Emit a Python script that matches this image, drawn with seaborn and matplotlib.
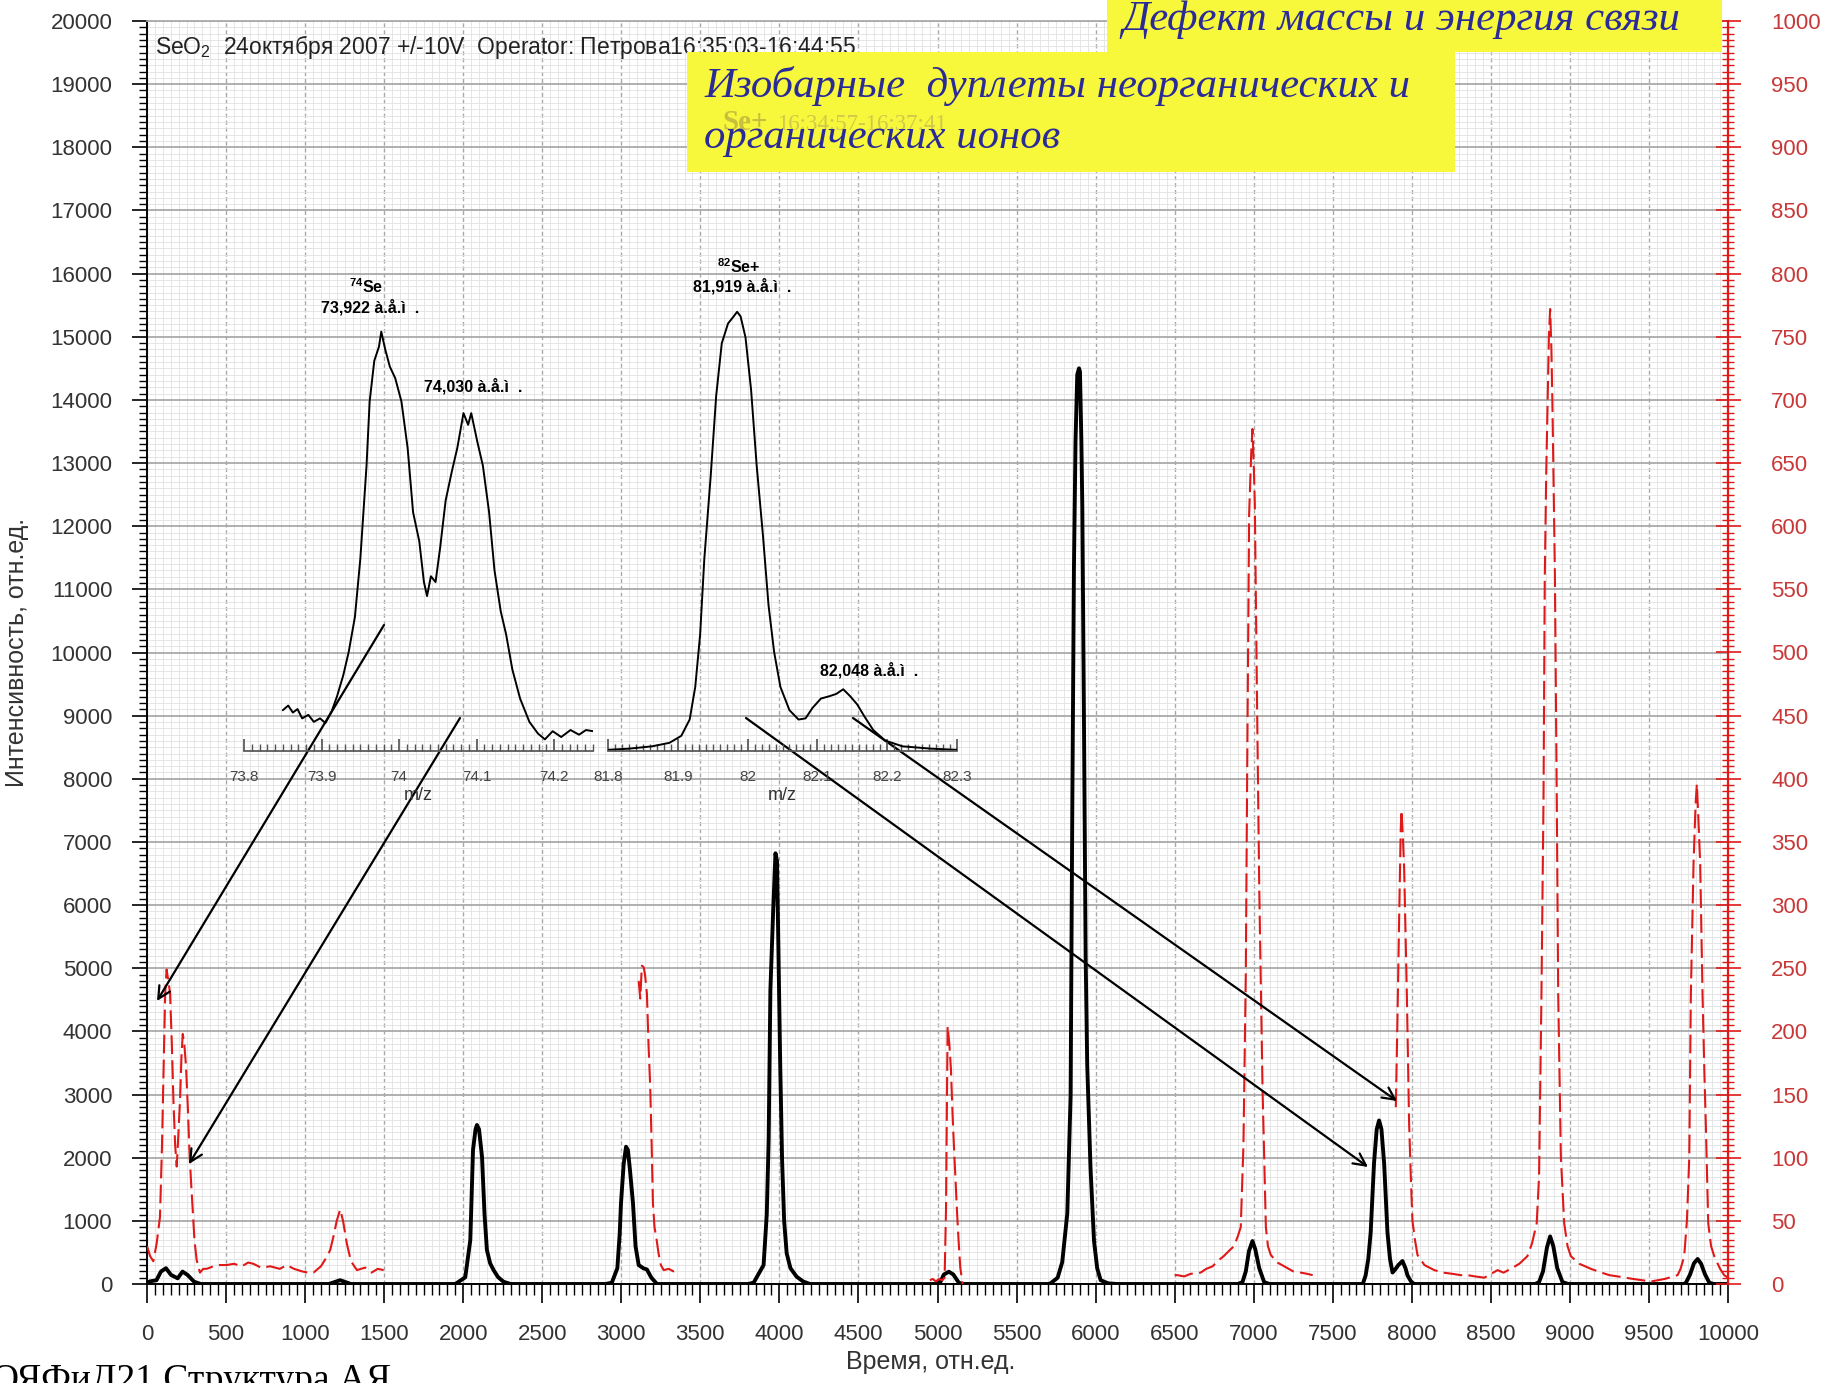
import pandas as pd
import seaborn as sns
import matplotlib.pyplot as plt
from matplotlib.ticker import MultipleLocator, FuncFormatter
from matplotlib.patches import Rectangle

# black trace, left axis (time, intensity)
black_t = [0, 16, 60, 88, 120, 152, 194, 225, 256, 298, 340, 1150, 1222, 1290,
           1950, 2013, 2045, 2062, 2078, 2087, 2100, 2119, 2135, 2150, 2170, 2192, 2220, 2255, 2300,
           2900, 2940, 2975, 2990, 2998, 3015, 3030, 3042, 3055, 3074, 3090, 3110, 3140, 3162, 3190, 3226,
           3800, 3837, 3900, 3920, 3932, 3943, 3960, 3975, 3985, 3996, 4005, 4017, 4030, 4046, 4070, 4109, 4150, 4194,
           4990, 5020, 5040, 5072, 5100, 5135, 5160,
           5700, 5715, 5760, 5789, 5821, 5842, 5852, 5863, 5873, 5884, 5895, 5901, 5910, 5916, 5926, 5937, 5947,
           5968, 5990, 6010, 6032, 6080, 6137,
           6900, 6929, 6950, 6970, 6992, 7010, 7035, 7066, 7100,
           7690, 7708, 7725, 7740, 7761, 7778, 7793, 7808, 7825, 7846, 7862, 7878, 7895, 7915, 7941, 7960, 7973, 7995, 8015,
           8780, 8805, 8830, 8855, 8875, 8895, 8920, 8953, 8990,
           9720, 9734, 9760, 9785, 9808, 9830, 9855, 9882, 9910, 10000]
black_v = [0, 40, 60, 197, 250, 144, 90, 197, 144, 36, 0, 0, 60, 0,
           0, 106, 697, 2122, 2450, 2518, 2450, 2016, 1100, 538, 330, 221, 110, 36, 0,
           0, 20, 250, 800, 1277, 1900, 2174, 2120, 1800, 1277, 600, 300, 248, 230, 100, 0,
           0, 20, 300, 1100, 2280, 4655, 5870, 6820, 6700, 4920, 3500, 1963, 1000, 486, 250, 116, 40, 0,
           0, 40, 150, 195, 150, 20, 0,
           0, 10, 100, 347, 1117, 2990, 7300, 11338, 13350, 14400, 14500, 14450, 13350, 12300, 9050, 5200, 3465,
           1830, 680, 250, 60, 10, 0,
           0, 30, 200, 520, 680, 550, 250, 30, 0,
           0, 136, 400, 820, 1910, 2450, 2590, 2450, 1910, 820, 400, 182, 230, 300, 364, 250, 136, 40, 0,
           0, 30, 200, 580, 754, 600, 250, 30, 0,
           0, 20, 150, 330, 396, 320, 150, 20, 0, 0]

# red dashed trace, right axis, in separate pieces
red1_t = [0, 20, 40, 61, 82, 95, 103, 115, 124, 135, 146, 157, 167, 178, 188, 199, 209, 218, 226, 236, 247,
          258, 268, 279, 289, 300, 314, 335, 356, 377, 420, 460, 504, 550, 600, 640, 673, 720, 780, 840, 884,
          930, 980, 1020, 1053, 1100, 1140, 1159, 1180, 1200, 1222, 1240, 1264, 1290, 1328, 1380, 1420, 1460, 1497]
red1_v = [30, 22, 18, 32, 53, 110, 159, 230, 249, 240, 230, 190, 146, 110, 93, 120, 146, 180, 198, 190, 172,
          140, 106, 80, 59, 35, 19, 9, 12, 12, 14, 15, 15, 16, 14, 17, 16, 13, 14, 12, 15,
          12, 10, 9, 9, 14, 22, 27, 38, 50, 59, 50, 32, 18, 11, 13, 9, 12, 11]
red2_t = [3110, 3120, 3130, 3141, 3150, 3162, 3172, 3183, 3192, 3200, 3210, 3221, 3236, 3250, 3268, 3300, 3330, 3352]
red2_v = [240, 226, 252, 251, 245, 230, 190, 156, 110, 64, 45, 37, 24, 15, 11, 12, 10, 11]
red3_t = [4952, 4970, 4990, 5010, 5030, 5045, 5054, 5060, 5064, 5075, 5085, 5095, 5106, 5115, 5123, 5133, 5144, 5159]
red3_v = [3, 4, 2, 4, 3, 5, 60, 150, 204, 190, 170, 135, 103, 80, 58, 35, 13, 0]
red4_t = [6500, 6517, 6560, 6600, 6664, 6700, 6740, 6770, 6810, 6850, 6876, 6900, 6918, 6935, 6950, 6960, 6971,
          6985, 6992, 7000, 7007, 7020, 7035, 7056, 7077, 7090, 7108, 7150, 7193, 7250, 7299, 7340, 7373]
red4_v = [7, 7, 6, 8, 9, 12, 14, 18, 22, 27, 30, 38, 45, 109, 245, 427, 609,
          660, 677, 650, 618, 473, 314, 154, 45, 30, 23, 17, 14, 10, 9, 8, 7]
red5_t = [7899, 7909, 7920, 7930, 7935, 7945, 7952, 7960, 7969, 7983, 7995, 8004, 8020, 8036, 8080, 8142, 8200,
          8260, 8310, 8353, 8400, 8459, 8500, 8543, 8580, 8626, 8680, 8731, 8760, 8790, 8805, 8820, 8833, 8841,
          8850, 8858, 8867, 8875, 8883, 8890, 8905, 8917, 8926, 8943, 8964, 8985, 9006, 9060, 9133, 9200, 9250,
          9302, 9400, 9513, 9600, 9681, 9700, 9723, 9740, 9755, 9765, 9782, 9795, 9803, 9812, 9824, 9839, 9850,
          9860, 9875, 9893, 9913, 9950, 9976, 10000]
red5_v = [140, 208, 290, 360, 375, 350, 327, 280, 227, 127, 80, 50, 35, 23, 15, 11, 9,
          8, 7, 7, 6, 5, 8, 11, 9, 12, 16, 22, 32, 48, 85, 229, 383, 558,
          640, 692, 750, 772, 740, 692, 563, 383, 229, 100, 48, 30, 22, 16, 12, 9, 7,
          6, 4, 2, 4, 7, 12, 22, 50, 100, 229, 333, 380, 396, 370, 333, 229, 170,
          125, 48, 30, 22, 12, 7, 5]

# inset spectra (m/z, relative intensity)
se74_mz = [73.850, 73.857, 73.863, 73.869, 73.875, 73.883, 73.890, 73.898, 73.905, 73.913, 73.920, 73.928,
           73.935, 73.943, 73.950, 73.958, 73.962, 73.968, 73.974, 73.977, 73.982, 73.988, 73.995, 74.003,
           74.011, 74.018, 74.026, 74.032, 74.036, 74.041, 74.047, 74.053, 74.060, 74.068, 74.075, 74.083,
           74.089, 74.093, 74.101, 74.108, 74.116, 74.123, 74.131, 74.138, 74.146, 74.156, 74.168, 74.179,
           74.188, 74.198, 74.209, 74.221, 74.232, 74.241, 74.250]
se74_int = [35, 39, 33, 36, 28, 31, 25, 28, 24, 34, 47, 65,
            85, 115, 165, 245, 300, 335, 347, 360, 345, 330, 320, 300,
            260, 205, 180, 145, 133, 150, 145, 175, 215, 240, 260, 290,
            280, 290, 265, 245, 205, 155, 120, 100, 70, 45, 25, 15,
            10, 17, 12, 18, 14, 18, 17]
se82_mz = [81.800, 81.830, 81.863, 81.888, 81.905, 81.917, 81.925, 81.932, 81.938, 81.947, 81.955, 81.963,
           81.972, 81.980, 81.985, 81.990, 81.997, 82.005, 82.013, 82.022, 82.030, 82.038, 82.047, 82.060,
           82.073, 82.083, 82.093, 82.105, 82.117, 82.127, 82.137, 82.147, 82.157, 82.167, 82.180, 82.197,
           82.222, 82.263, 82.300]
se82_int = [1, 2, 4, 7, 13, 27, 55, 100, 165, 235, 305, 350,
            367, 373, 377, 373, 355, 310, 245, 185, 125, 85, 55, 35,
            27, 28, 37, 45, 47, 49, 53, 47, 40, 30, 18, 9,
            4, 2, 1]

W, H = 1825, 1383
RED = '#e01818'


def rect(x0, y0, x1, y1):
    return [x0 / W, 1 - y1 / H, (x1 - x0) / W, (y1 - y0) / H]


sns.set_theme(style='white')
plt.rcParams['font.family'] = ['Liberation Sans Narrow', 'Liberation Sans', 'DejaVu Sans']
plt.rcParams['mathtext.default'] = 'regular'

fig = plt.figure(figsize=(W / 100, H / 100), dpi=100)
fig.patch.set_facecolor('white')
ax = fig.add_axes(rect(147, 21, 1728, 1284))
ax2 = ax.twinx()

# main traces
sns.lineplot(x=black_t, y=black_v, ax=ax, color='black', lw=2.8, sort=False, estimator=None, zorder=3)
for tt, vv in [(red1_t, red1_v), (red2_t, red2_v), (red3_t, red3_v), (red4_t, red4_v), (red5_t, red5_v)]:
    sns.lineplot(x=tt, y=vv, ax=ax2, color=RED, lw=1.5, sort=False, estimator=None)
for ln in ax2.lines:
    ln.set_dashes([9, 3])

ax.set_xlim(0, 10000)
ax.set_ylim(0, 20000)
ax2.set_ylim(0, 1000)
ax.set_xlabel('')
ax.set_ylabel('')
ax2.set_ylabel('')

ax.xaxis.set_major_locator(MultipleLocator(500))
ax.xaxis.set_minor_locator(MultipleLocator(50))
ax.yaxis.set_major_locator(MultipleLocator(1000))
ax.yaxis.set_minor_locator(MultipleLocator(100))
ax2.yaxis.set_major_locator(MultipleLocator(50))
ax2.yaxis.set_minor_locator(MultipleLocator(5))

ax.set_axisbelow(True)
ax.grid(which='minor', color='#e2e2e2', lw=0.6)
ax.grid(which='major', axis='y', color='#a9a9a9', lw=1.3)
ax.grid(which='major', axis='x', color='#a9a9a9', lw=1.0, ls=(0, (3, 2)))

ax.tick_params(axis='y', which='major', direction='out', length=11, width=1.2, color='black',
               labelsize=16, labelcolor='#333333', pad=14, left=True)
ax.tick_params(axis='y', which='minor', direction='out', length=6, width=1, color='black', left=True)
ax.tick_params(axis='x', which='major', direction='out', length=14, width=1.2, color='black',
               labelsize=16, labelcolor='#333333', pad=15, bottom=True)
ax.tick_params(axis='x', which='minor', direction='out', length=8, width=1, color='black', bottom=True)
ax2.tick_params(axis='y', which='major', direction='inout', length=18, width=1.2, color=RED,
                labelsize=16, labelcolor='#c83838', pad=22, right=True)
ax2.tick_params(axis='y', which='minor', direction='inout', length=8, width=1, color=RED, right=True)

for s in ['left', 'bottom']:
    ax.spines[s].set_color('black')
    ax.spines[s].set_linewidth(1.4)
ax.spines['top'].set_color('#a9a9a9')
ax.spines['right'].set_visible(False)
for s in ['left', 'top', 'bottom']:
    ax2.spines[s].set_visible(False)
ax2.spines['right'].set_color(RED)
ax2.spines['right'].set_linewidth(1.6)


# inset spectra
def inset(box, lo, hi, mz, inten):
    a = fig.add_axes(rect(*box))
    sns.lineplot(x=mz, y=inten, ax=a, color='black', lw=1.4, sort=False, estimator=None)
    a.set_xlim(lo, hi)
    a.set_ylim(0, 400)
    a.patch.set_alpha(0)
    for s in ['top', 'right', 'left']:
        a.spines[s].set_visible(False)
    a.spines['bottom'].set_color('#555555')
    a.set_yticks([])
    a.xaxis.set_major_locator(MultipleLocator(0.1))
    a.xaxis.set_minor_locator(MultipleLocator(0.01))
    a.xaxis.set_major_formatter(FuncFormatter(lambda v, p: f'{v:g}'))
    a.tick_params(axis='x', which='major', direction='in', length=9, color='#555555',
                  labelsize=11, labelcolor='#444444', pad=14, bottom=True)
    a.tick_params(axis='x', which='minor', direction='in', length=5, color='#555555', bottom=True)
    a.set_xlabel('m/z', fontsize=13, color='#333333', labelpad=2)
    a.set_ylabel('')
    return a


inset((244, 285, 593, 751), 73.8, 74.25, se74_mz, se74_int)
inset((608, 285, 957, 751), 81.8, 82.3, se82_mz, se82_int)

# arrows
for (x0, y0), (x1, y1) in [((384, 625), (157, 1001)), ((460, 718), (189, 1164)),
                           ((746, 718), (1368, 1167)), ((853, 718), (1397, 1101))]:
    ax2.annotate('', xy=(x1, H - y1), xytext=(x0, H - y0), xycoords='figure pixels',
                 textcoords='figure pixels', annotation_clip=False,
                 arrowprops=dict(arrowstyle='->', color='black', lw=1.6, mutation_scale=22,
                                 shrinkA=0, shrinkB=0))


def ftext(x, y, s, **kw):
    fig.text(x / W, 1 - y / H, s, **kw)


# texts
ftext(155, 47, 'SeO$_2$  24октября 2007 +/-10V  Operator: Петрова16:35:03-16:44:55',
      fontsize=16.5, color='#222222', va='center', ha='left')
kw = dict(fontsize=11.5, fontweight='bold', color='black', ha='center', va='center')
ftext(366, 287, '$^{74}$Se', **kw)
ftext(370, 307, '73,922 à.å.ì  .', **kw)
ftext(473, 386, '74,030 à.å.ì  .', **kw)
ftext(739, 267, '$^{82}$Se+', **kw)
ftext(742, 286, '81,919 à.å.ì  .', **kw)
ftext(869, 670, '82,048 à.å.ì  .', **kw)

ftext(17, 652, 'Интенсивность, отн.ед.', fontsize=18, color='#333333', rotation=90, ha='center', va='center')
ftext(931, 1362, 'Время, отн.ед.', fontsize=18, color='#333333', ha='center', va='center')
ftext(-8, 1390, 'ОЯФиД21 Структура АЯ', fontsize=27, family=['Liberation Serif', 'DejaVu Serif'],
      color='black', ha='left', va='baseline')

# yellow boxes
fig.add_artist(Rectangle((1107 / W, 1 - 52 / H), (1722 - 1107) / W, 52 / H, transform=fig.transFigure,
                         facecolor='#f7f73c', edgecolor='none', zorder=5))
fig.add_artist(Rectangle((687 / W, 1 - 172 / H), (1455 - 687) / W, (172 - 52) / H, transform=fig.transFigure,
                         facecolor='#f7f73c', edgecolor='none', zorder=5))
serif = dict(family=['Liberation Serif', 'DejaVu Serif'], style='italic', color='#2b2b98', fontsize=30.8,
             ha='left', va='center', zorder=6)
ftext(1122, 20, 'Дефект массы и энергия связи', **serif)
ftext(704, 86, 'Изобарные  дуплеты неорганических и', **serif)
ftext(704, 138, 'органических ионов', **serif)
ftext(722, 122, 'Se+', family=['Liberation Serif', 'DejaVu Serif'], fontweight='bold', fontsize=21,
      color='#c8c03c', ha='left', va='center', zorder=5.5)
ftext(777, 124, '16:34:57-16:37:41', family=['Liberation Serif', 'DejaVu Serif'], fontsize=16.5,
      color='#d0c84a', ha='left', va='center', zorder=5.5)

fig.savefig('out.png', dpi=100)
